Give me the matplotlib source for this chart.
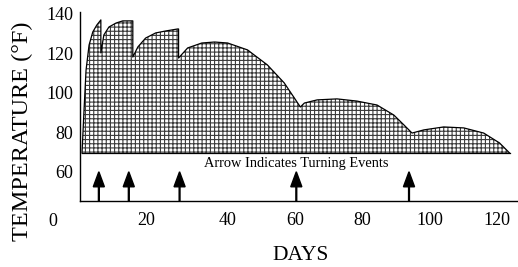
import matplotlib
matplotlib.use("Agg")
import matplotlib.pyplot as plt

# curve outline (day, temperature in F)
days = [-3.3, -2.7, -2.1, -1.2, -0.1, 1.1, 2.3,
        2.3, 3.2, 4.7, 6.8, 8.8, 11.2, 11.8,
        11.8, 13.3, 15.6, 18.6, 21.6, 25.1, 25.4,
        25.4, 28.1, 32.3, 36.1, 40.0, 45.9, 51.8, 56.8, 59.8, 61.6,
        62.8, 66.6, 72.5, 78.4, 84.4, 89.4, 92.4, 94.8,
        98.3, 104.2, 110.2, 116.1, 120.8, 123.8]
temps = [69.5, 91.3, 111.5, 124.2, 130.8, 134.3, 136.9,
         120.2, 129.3, 133.3, 135.3, 136.4, 136.4, 136.4,
         118.1, 123.2, 127.7, 130.3, 131.3, 132.3, 132.3,
         117.6, 122.7, 125.2, 125.7, 125.2, 121.7, 114.1, 105.0, 97.4, 92.8,
         94.8, 96.4, 96.9, 95.8, 93.8, 88.7, 83.7, 79.6,
         81.2, 82.7, 82.2, 79.6, 74.6, 69.5]
base_temp = 69.5

# turning events
turn_days = [1.7, 10.6, 25.7, 60.4, 93.9]

xtick_pos = [15.9, 40, 60, 80, 100, 120]
xtick_labels = ['20', '40', '60', '80', '100', '120']
ytick_pos = [60, 80, 100, 120, 140]

plt.rcParams['font.family'] = ['Liberation Serif', 'DejaVu Serif']
plt.rcParams['hatch.linewidth'] = 0.8

fig = plt.figure(figsize=(5.18, 2.67), dpi=100)
ax = fig.add_axes([80 / 518, 1 - 201 / 267, 1 - 80 / 518, 189 / 267])

ax.fill_between(days, base_temp, temps, facecolor='white', edgecolor='#3a3a3a',
                hatch='++++', linewidth=0)
ax.plot(days, temps, color='black', lw=0.9)
ax.plot([days[0], days[-1]], [base_temp, base_temp], color='black', lw=0.9)

for d in turn_days:
    ax.arrow(d, 45.2, 0, 60 - 45.2, width=0.25, head_width=3.3,
             head_length=7.6, length_includes_head=True, color='black')

ax.text(60.5, 64.3, 'Arrow Indicates Turning Events', ha='center',
        va='center', fontsize=10.4)

ax.set_xlim(-3.9, 126.3)
ax.set_ylim(45.2, 140.9)
ax.set_xticks(xtick_pos)
ax.set_xticklabels(xtick_labels)
ax.set_yticks(ytick_pos)
ax.tick_params(axis='x', length=0, pad=8, labelsize=13)
ax.tick_params(axis='y', length=0, pad=5, labelsize=13)
for s in ['top', 'right']:
    ax.spines[s].set_visible(False)
for s in ['left', 'bottom']:
    ax.spines[s].set_linewidth(1.0)

fig.text(53 / 518, 1 - 221 / 267, '0', ha='center', va='center', fontsize=13)
fig.text(301 / 518, 1 - 255 / 267, 'DAYS', ha='center', va='center', fontsize=15.5)
fig.text(22 / 518, 1 - 131 / 267, 'TEMPERATURE (\u00b0F)', ha='center',
         va='center', rotation=90, fontsize=17.5)

fig.savefig('out.png', dpi=100)
